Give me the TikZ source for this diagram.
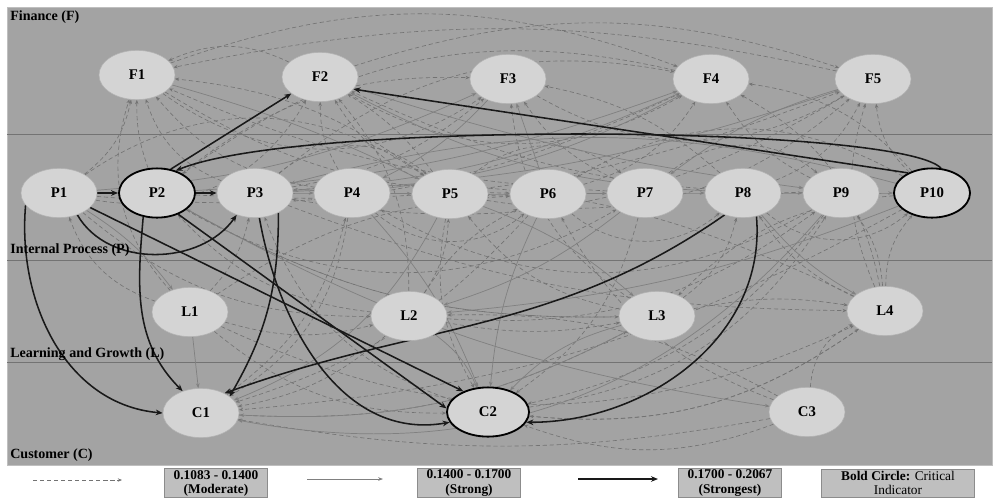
\documentclass[tikz,border=0pt]{standalone}
\usepackage{fontspec}
\setmainfont{Liberation Serif}
\usetikzlibrary{shapes.geometric,arrows.meta}
\pgfdeclarelayer{panel}
\pgfdeclarelayer{links}
\pgfsetlayers{panel,links,main}
\tikzset{
  indicator/.style={ellipse, draw=black!30, fill=black!17, minimum width=1.9cm, minimum height=1.23cm, inner sep=0pt, font=\fontsize{10.5}{12}\selectfont\bfseries},
  critical/.style={indicator, draw=black, line width=1.3pt},
  perspective/.style={anchor=west, inner sep=0pt, font=\fontsize{10}{12}\selectfont\bfseries},
  moderate/.style={draw=black!55, line width=0.45pt, dash pattern=on 3pt off 2pt, -{Stealth[length=3pt,width=2.4pt]}},
  strong/.style={draw=black!50, line width=0.5pt, -{Stealth[length=3.5pt,width=2.6pt]}},
  strongest/.style={draw=black!90, line width=1.1pt, -{Stealth[length=5pt,width=4pt]}},
  legendbox/.style={draw=black!45, fill=black!25, line width=0.6pt, minimum width=2.58cm, minimum height=0.7cm, align=center, inner sep=1pt, font=\fontsize{9.5}{10}\selectfont},
}
\begin{document}
\begin{tikzpicture}[x=0.025cm,y=-0.025cm]
\useasboundingbox (0,0) rectangle (1000,502);
% panel and perspective bands
\begin{pgfonlayer}{panel}
\fill[black!36] (7,7) rectangle (992,465);
\draw[black!25] (7,7) rectangle (992,465);
\draw[black!55, line width=0.6pt] (7,134) -- (992,134);
\draw[black!55, line width=0.6pt] (7,260) -- (992,260);
\draw[black!55, line width=0.6pt] (7,362) -- (992,362);
\end{pgfonlayer}
\node[perspective] (finance) at (10,17) {Finance (F)};
\node[perspective] (process) at (10,250) {Internal Process (P)};
\node[perspective] (learning) at (10,354) {Learning and Growth (L)};
\node[perspective] (customer) at (10,455) {Customer (C)};
% finance
\node[indicator] (F1) at (137,75) {F1};
\node[indicator] (F2) at (320,77) {F2};
\node[indicator] (F3) at (508,79) {F3};
\node[indicator] (F4) at (711,79) {F4};
\node[indicator] (F5) at (873,79) {F5};
% internal process
\node[indicator] (P1) at (59,193) {P1};
\node[critical] (P2) at (157,193) {P2};
\node[indicator] (P3) at (255,193) {P3};
\node[indicator] (P4) at (352,193) {P4};
\node[indicator] (P5) at (450,194) {P5};
\node[indicator] (P6) at (548,194) {P6};
\node[indicator] (P7) at (645,193) {P7};
\node[indicator] (P8) at (743,193) {P8};
\node[indicator] (P9) at (841,193) {P9};
\node[critical] (P10) at (932,193) {P10};
% learning and growth
\node[indicator] (L1) at (190,312) {L1};
\node[indicator] (L2) at (409,316) {L2};
\node[indicator] (L3) at (657,316) {L3};
\node[indicator] (L4) at (885,311) {L4};
% customer
\node[indicator] (C1) at (201,413) {C1};
\node[critical, minimum width=2.05cm] (C2) at (488,412) {C2};
\node[indicator] (C3) at (807,412) {C3};
\begin{pgfonlayer}{links}
% moderate relations
\foreach \from/\to/\bend in {P1/F1/-20, P3/F1/25, F2/F1/-25, P2/F1/10, P1/F2/-35, P4/F2/15, P5/F2/-10, P6/F2/30,
  F1/F3/-35, P2/F3/20, P3/F3/-15, P7/F3/15, F2/F4/-30, P6/F4/-20, P3/F4/25, P9/F4/15, F3/F5/-30, P8/F5/-20,
  P10/F5/20, P5/F5/-25, L1/P1/25, L1/P3/-15, L2/P2/20, L2/P5/-15, L2/P6/15, L3/P5/20, L3/P8/-20, L4/P8/15,
  L4/P9/-15, L4/P10/20, L2/L3/-10, L3/L4/10, L1/L2/-15, L1/L4/-25, C3/C1/10, C3/C2/20, C3/L4/30, L1/C2/-20,
  L2/C1/15, L4/C2/20, P4/C1/25, P5/C2/-20, P6/C1/15, P7/C2/20, P9/C2/20, P10/C1/12, P10/L3/-20, P3/P5/40,
  P4/P6/-40, P5/P7/40, P6/P8/-40, P7/P9/40, P8/P10/-40, P1/P5/35, P2/P7/-30, P9/P4/30, P10/P6/-30, F4/P2/-25,
  F5/P3/20, F1/P6/-15, F1/F4/20, F2/F5/18, F5/F1/-12, P1/F4/-15, P2/F5/-12, P4/F1/20, P5/F1/-15, P7/F1/10,
  P8/F3/-15, P9/F2/12, P10/F4/-20, L1/F1/30, L2/F2/-20, L3/F3/25, L4/F4/-25, L4/F5/20, C1/P4/-20, C2/P3/25,
  C2/P9/-25, C1/L3/-15, C2/L4/-20, L1/P6/15, L2/P9/-20, L3/P2/15, L4/P3/-15, P1/L2/-20, P2/L3/-15, P3/L4/-10,
  C3/P6/20, C3/L2/-15}
  \draw[moderate] (\from) to[bend left=\bend] (\to);
% strong relations
\foreach \from/\to/\bend in {L1/C1/0, P1/F3/-10, P2/F4/-8, P3/F5/-8, P3/P4/0, P4/P5/0, P5/P6/0, P6/P7/0, P7/P8/0,
  P8/P9/0, P9/P10/0, P4/C2/10, P6/C2/-10, L3/C2/-15, P5/C1/20, P8/L4/-10, P10/P3/-15, F3/P4/10, P6/F3/0,
  L2/C2/15, P9/C1/30, P7/L2/10, P4/F4/-10, P8/F2/12, P1/L1/10, F1/P5/5, F2/P9/-5, P2/C3/-10, L3/C1/15,
  P5/L3/10, F4/P3/10, F5/P7/-10, P10/L2/8}
  \draw[strong] (\from) to[bend left=\bend] (\to);
% strongest relations
\draw[strongest] (P1) -- (P2);
\draw[strongest] (P2) -- (P3);
\draw[strongest] (P1.-50) to[out=-60,in=-125] (P3.-130);
\draw[strongest] (P2.60) -- (F2.-150);
\draw[strongest] (P10.140) -- (F2.-20);
\draw[strongest] (P10.70) .. controls (900,125) and (300,120) .. (P2.50);
\draw[strongest] (P1.-160) to[out=-95,in=175] (C1.west);
\draw[strongest] (P2.-120) to[out=-95,in=135] (C1.130);
\draw[strongest] (P3.-40) to[out=-90,in=60] (C1.30);
\draw[strongest] (P1.-25) -- (C2.140);
\draw[strongest] (P2.-45) -- (C2.175);
\draw[strongest] (P3.-80) to[out=-80,in=190] (C2.-165);
\draw[strongest] (P8.-130) to[out=-145,in=20] (C1.40);
\draw[strongest] (P8.-60) to[out=-85,in=0] (C2.-15);
\end{pgfonlayer}
% legend
\coordinate (m0) at (33,480); \coordinate (m1) at (122,480);
\coordinate (s0) at (307,479); \coordinate (s1) at (383,479);
\coordinate (t0) at (578,479); \coordinate (t1) at (658,479);
\draw[moderate] (m0) -- (m1);
\draw[strong] (s0) -- (s1);
\draw[strongest] (t0) -- (t1);
\node[legendbox] (moderatekey) at (216,483) {\textbf{0.1083 - 0.1400}\\\textbf{(Moderate)}};
\node[legendbox] (strongkey) at (469,483) {\textbf{0.1400 - 0.1700}\\\textbf{(Strong)}};
\node[legendbox] (strongestkey) at (730,483) {\textbf{0.1700 - 0.2067}\\\textbf{(Strongest)}};
\node[legendbox, minimum width=3.83cm] (criticalkey) at (898,483) {\textbf{Bold Circle:} Critical\\Indicator};
\end{tikzpicture}
\end{document}
